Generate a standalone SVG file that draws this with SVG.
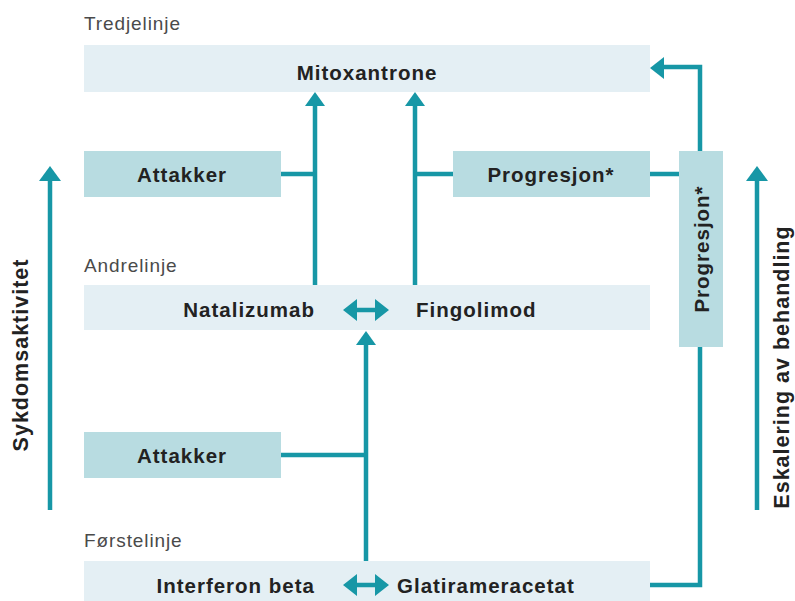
<svg xmlns="http://www.w3.org/2000/svg" width="795" height="601" viewBox="0 0 795 601">
<defs>
<style>
.lbl{font-family:"Liberation Sans",Arial,sans-serif;font-size:19px;letter-spacing:0.9px;fill:#4a4a4a}
.t{font-family:"Liberation Sans",Arial,sans-serif;font-size:20.5px;letter-spacing:1px;font-weight:bold;fill:#222}
.s{font-family:"Liberation Sans",Arial,sans-serif;font-size:21.5px;letter-spacing:1px;font-weight:bold;fill:#222}
.light{fill:#e4eff4}
.mid{fill:#b8dce1}
.ln{stroke:#1797a6;stroke-width:4.5;fill:none}
.hd{fill:#1797a6}
</style>
</defs>
<rect width="795" height="601" fill="#fff"/>
<text class="lbl" x="84" y="30">Tredjelinje</text>
<text class="lbl" x="84" y="272">Andrelinje</text>
<text class="lbl" x="84" y="547">Førstelinje</text>
<g id="mitoxantrone"><rect class="light" x="84" y="45" width="566" height="47"/><text class="t" x="367" y="80" text-anchor="middle">Mitoxantrone</text></g>
<g id="attakker1"><rect class="mid" x="84" y="151" width="197" height="46"/><text class="t" x="182" y="182" text-anchor="middle">Attakker</text></g>
<g id="progresjon1"><rect class="mid" x="453" y="151" width="197" height="46"/><text class="t" x="551" y="182" text-anchor="middle">Progresjon*</text></g>
<g id="progresjon2"><rect class="mid" x="679" y="151" width="44" height="196"/><text class="t" transform="translate(709 249) rotate(-90)" text-anchor="middle">Progresjon*</text></g>
<g id="andrelinje"><rect class="light" x="84" y="285" width="566" height="45"/><text class="t" x="315" y="317" text-anchor="end">Natalizumab</text><text class="t" x="416" y="317">Fingolimod</text></g>
<g id="attakker2"><rect class="mid" x="84" y="432" width="197" height="46"/><text class="t" x="182" y="463" text-anchor="middle">Attakker</text></g>
<g id="forstelinje"><rect class="light" x="84" y="561" width="566" height="40"/><text class="t" x="315" y="593" text-anchor="end">Interferon beta</text><text class="t" x="397" y="593">Glatirameracetat</text></g>
<g id="sykdom"><text class="s" transform="translate(28 355) rotate(-90)" text-anchor="middle">Sykdomsaktivitet</text></g>
<g id="eskalering"><text class="s" transform="translate(789 367) rotate(-90)" text-anchor="middle">Eskalering av behandling</text></g>
<g id="connectors">
<path class="ln" d="M281 174H315M315 285V104"/>
<path class="hd" d="M305 106L315 92L325 106Z"/>
<path class="ln" d="M453 174H415M415 285V104"/>
<path class="hd" d="M405 106L415 92L425 106Z"/>
<path class="ln" d="M650 174H679"/>
<path class="ln" d="M700 151V67H662"/>
<path class="hd" d="M664 57L650 68L664 79Z"/>
<path class="ln" d="M700 347V585H650"/>
<path class="ln" d="M281 455H366M366 561V343"/>
<path class="hd" d="M356 345L366 331L376 345Z"/>
<path class="ln" d="M352 310H380"/>
<path class="hd" d="M357 299L343 310L357 321Z M375 299L389 310L375 321Z"/>
<path class="ln" d="M352 585H380"/>
<path class="hd" d="M357 574L343 585L357 596Z M375 574L389 585L375 596Z"/>
<path class="ln" d="M50 510V178"/>
<path class="hd" d="M39 181L50 166L61 181Z"/>
<path class="ln" d="M757 510V178"/>
<path class="hd" d="M746 181L757 166L768 181Z"/>
</g>
</svg>
